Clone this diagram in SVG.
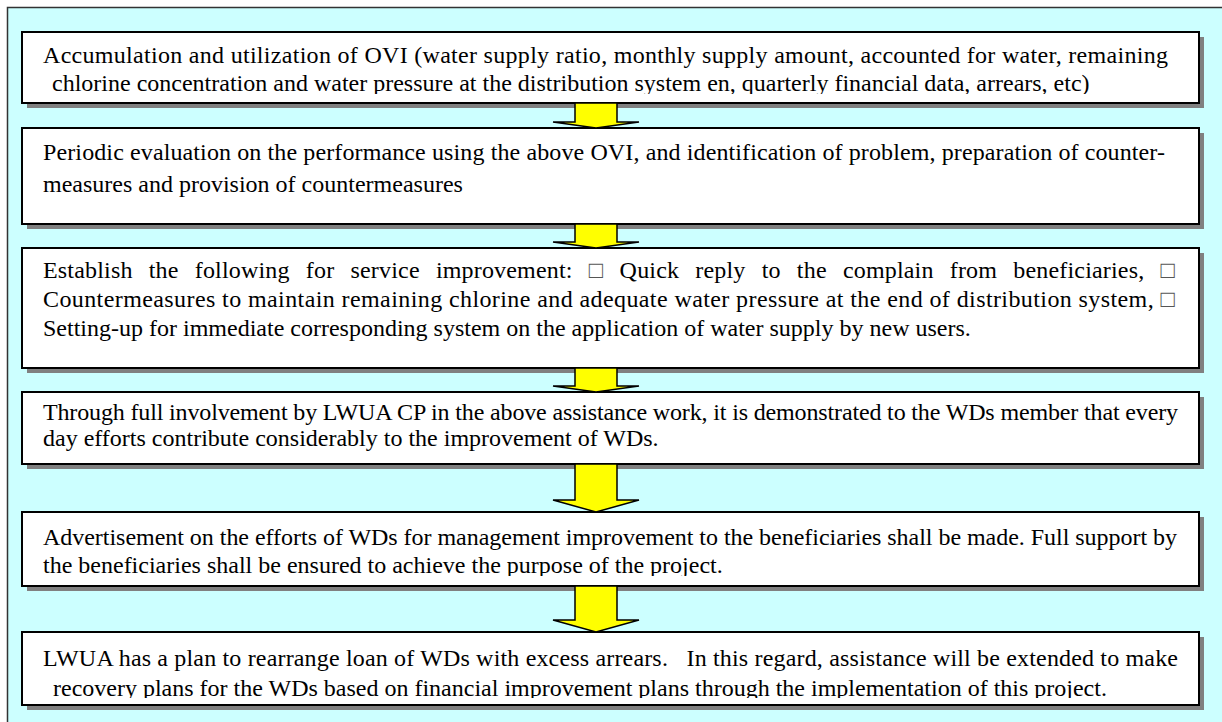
<svg xmlns="http://www.w3.org/2000/svg" width="1222" height="722" viewBox="0 0 1222 722">
  <style>
    .frame { fill: #CCFFFF; stroke: #333333; stroke-width: 1.5; }
    .shadow { fill: #808080; }
    .box { fill: #FFFFFF; stroke: #000000; stroke-width: 2; }
    .txt { font-family: "Liberation Serif", "Times New Roman", Times, serif; font-size: 24px; fill: #000000; }
    .sym { fill: #555555; }
    .arrow { fill: #FFFF00; stroke: #000000; stroke-width: 1.5; stroke-linejoin: miter; }
  </style>
  <defs>
    <!-- text frames: lines that overrun a box are cut off at its inner margin -->
    <clipPath id="clip-b1"><rect x="22" y="32" width="1177" height="62"/></clipPath>
    <clipPath id="clip-b5"><rect x="22" y="512" width="1177" height="64"/></clipPath>
    <clipPath id="clip-b6"><rect x="22" y="632" width="1177" height="66"/></clipPath>
  </defs>

  <!-- background panel -->
  <rect class="frame" x="7.5" y="7.5" width="1240" height="740"/>

  <g id="step-1-ovi">
    <rect class="shadow" x="27" y="37" width="1177" height="71"/>
    <rect class="box" x="22" y="32" width="1177" height="71"/>
    <g clip-path="url(#clip-b1)">
      <text class="txt" x="43" y="63" textLength="1125" lengthAdjust="spacing">Accumulation and utilization of OVI (water supply ratio, monthly supply amount, accounted for water, remaining</text>
      <text class="txt" x="52" y="91">chlorine concentration and water pressure at the distribution system en, quarterly financial data, arrears, etc)</text>
    </g>
  </g>

  <g id="step-2-evaluation">
    <rect class="shadow" x="27" y="133" width="1177" height="96"/>
    <rect class="box" x="22" y="128" width="1177" height="96"/>
    <text class="txt" x="43" y="160" textLength="1122" lengthAdjust="spacing">Periodic evaluation on the performance using the above OVI, and identification of problem, preparation of counter-</text>
    <text class="txt" x="43" y="192">measures and provision of countermeasures</text>
  </g>

  <g id="step-3-service">
    <rect class="shadow" x="27" y="253" width="1177" height="120"/>
    <rect class="box" x="22" y="248" width="1177" height="120"/>
    <text class="txt" x="43" y="278" word-spacing="10" textLength="1132" lengthAdjust="spacing">Establish the following for service improvement: <tspan class="sym">□</tspan> Quick reply to the complain from beneficiaries, <tspan class="sym">□</tspan></text>
    <text class="txt" x="43" y="307" textLength="1132" lengthAdjust="spacing">Countermeasures to maintain remaining chlorine and adequate water pressure at the end of distribution system, <tspan class="sym">□</tspan></text>
    <text class="txt" x="43" y="336">Setting-up for immediate corresponding system on the application of water supply by new users.</text>
  </g>

  <g id="step-4-involvement">
    <rect class="shadow" x="27" y="397" width="1177" height="72"/>
    <rect class="box" x="22" y="392" width="1177" height="72"/>
    <text class="txt" x="43" y="420" textLength="1135" lengthAdjust="spacing">Through full involvement by LWUA CP in the above assistance work, it is demonstrated to the WDs member that every</text>
    <text class="txt" x="43" y="446">day efforts contribute considerably to the improvement of WDs.</text>
  </g>

  <g id="step-5-advertisement">
    <rect class="shadow" x="27" y="517" width="1177" height="74"/>
    <rect class="box" x="22" y="512" width="1177" height="74"/>
    <g clip-path="url(#clip-b5)">
      <text class="txt" x="43" y="545" textLength="1134" lengthAdjust="spacing">Advertisement on the efforts of WDs for management improvement to the beneficiaries shall be made. Full support by</text>
      <text class="txt" x="43" y="573">the beneficiaries shall be ensured to achieve the purpose of the project.</text>
    </g>
  </g>

  <g id="step-6-loan">
    <rect class="shadow" x="27" y="637" width="1177" height="73"/>
    <rect class="box" x="22" y="632" width="1177" height="73"/>
    <g clip-path="url(#clip-b6)">
      <text class="txt" x="43" y="666" textLength="1135" lengthAdjust="spacing">LWUA has a plan to rearrange loan of WDs with excess arrears.&#160;&#160; In this regard, assistance will be extended to make</text>
      <text class="txt" x="53" y="696">recovery plans for the WDs based on financial improvement plans through the implementation of this project.</text>
    </g>
  </g>

  <g id="connectors">
    <path class="arrow" d="M575,103 L617,103 L617,122 L639,122 L596,128 L553,122 L575,122 Z"/>
    <path class="arrow" d="M575,224 L617,224 L617,242 L639,242 L596,248 L553,242 L575,242 Z"/>
    <path class="arrow" d="M575,368 L617,368 L617,386 L639,386 L596,392 L553,386 L575,386 Z"/>
    <path class="arrow" d="M575,464 L617,464 L617,500 L639,500 L596,512 L553,500 L575,500 Z"/>
    <path class="arrow" d="M575,586 L617,586 L617,620 L639,620 L596,632 L553,620 L575,620 Z"/>
  </g>
</svg>
